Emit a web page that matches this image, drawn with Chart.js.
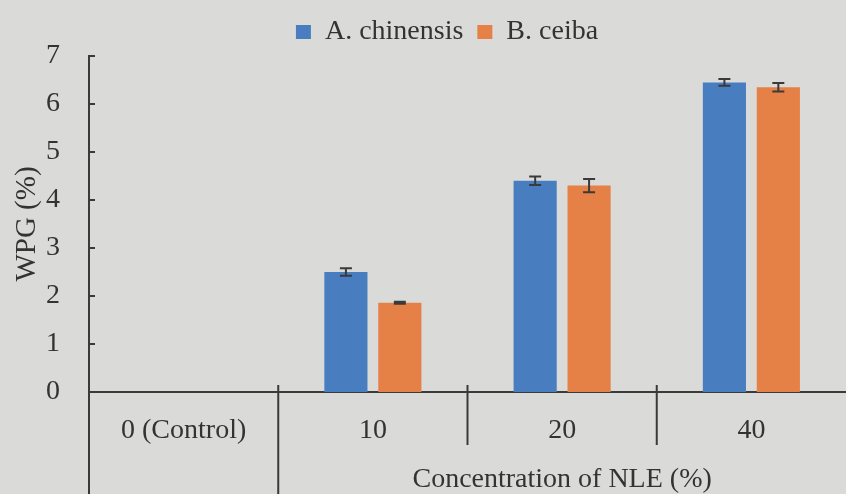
<!DOCTYPE html>
<html>
<head>
<meta charset="utf-8">
<script src="https://cdn.jsdelivr.net/npm/chart.js@4"></script>
<style>
  body { margin: 0; background: #dadbd9; }
  #wrap { width: 846px; height: 494px; }
</style>
</head>
<body>
<div id="wrap"><canvas id="myChart"></canvas></div>
<script>
let categories = ['0 (Control)', '10', '20', '40'];
let chinensis = [0, 2.5, 4.4, 6.45];
let chinensisErr = [0, 0.08, 0.09, 0.07];
let ceiba = [0, 1.86, 4.3, 6.35];
let ceibaErr = [0, 0.02, 0.14, 0.09];
let yTicks = [0, 1, 2, 3, 4, 5, 6, 7];
let groupLabel = 'Concentration of NLE (%)';

let ink = '#333333';
let serif = 'Liberation Serif';

// error bars on top of each bar
const errorBars = {
    id: 'errorBars',
    afterDatasetsDraw(chart) {
        const ctx = chart.ctx;
        const y = chart.scales.y;
        ctx.save();
        ctx.strokeStyle = '#3a3a3a';
        ctx.lineWidth = 2;
        chart.data.datasets.forEach((ds, i) => {
            chart.getDatasetMeta(i).data.forEach((bar, j) => {
                let e = ds.errors[j];
                if (!e) return;
                let top = y.getPixelForValue(ds.data[j] + e);
                let bot = y.getPixelForValue(ds.data[j] - e);
                ctx.beginPath();
                ctx.moveTo(bar.x, top); ctx.lineTo(bar.x, bot);
                ctx.moveTo(bar.x - 6, top); ctx.lineTo(bar.x + 6, top);
                ctx.moveTo(bar.x - 6, bot); ctx.lineTo(bar.x + 6, bot);
                ctx.stroke();
            });
        });
        ctx.restore();
    }
};

// inner y ticks, category dividers and the group label under the axis
const axisExtras = {
    id: 'axisExtras',
    afterLayout(chart) {
        chart.legend.left += 22;
        chart.legend.right += 22;
    },
    beforeDraw(chart) {
        const ctx = chart.ctx;
        ctx.save();
        ctx.fillStyle = '#dadbd9';
        ctx.fillRect(0, 0, chart.width, chart.height);
        ctx.restore();
    },
    afterDraw(chart) {
        const ctx = chart.ctx;
        const x = chart.scales.x;
        const y = chart.scales.y;
        const area = chart.chartArea;
        const half = (x.getPixelForValue(1) - x.getPixelForValue(0)) / 2;
        ctx.save();
        ctx.strokeStyle = '#3a3a3a';
        ctx.lineWidth = 2;
        ctx.beginPath();
        yTicks.forEach(v => {
            let py = y.getPixelForValue(v);
            ctx.moveTo(area.left, py); ctx.lineTo(area.left + 6, py);
        });
        ctx.moveTo(area.left, area.bottom); ctx.lineTo(area.left, chart.height);
        for (let i = 1; i < categories.length; i++) {
            let px = x.getPixelForValue(i) - half;
            ctx.moveTo(px, area.bottom - 7);
            ctx.lineTo(px, i == 1 ? chart.height : area.bottom + 53);
        }
        ctx.stroke();

        let gx = (x.getPixelForValue(1) - half + area.right) / 2;
        ctx.fillStyle = ink;
        ctx.font = '28px "' + serif + '"';
        ctx.textAlign = 'center';
        ctx.textBaseline = 'middle';
        ctx.fillText(groupLabel, gx, 480);
        ctx.restore();
    }
};

var ctx = document.getElementById('myChart').getContext('2d');
var myChart = new Chart(ctx, {
    type: 'bar',
    data: {
        labels: categories,
        datasets: [{
            label: 'A. chinensis',
            data: chinensis,
            errors: chinensisErr,
            backgroundColor: 'rgb(72, 126, 192)',
            categoryPercentage: 0.57,
            barPercentage: 0.8
        }, {
            label: 'B. ceiba',
            data: ceiba,
            errors: ceibaErr,
            backgroundColor: 'rgb(229, 128, 70)',
            categoryPercentage: 0.57,
            barPercentage: 0.8
        }]
    },
    options: {
        responsive: true,
        maintainAspectRatio: false,
        animation: false,
        layout: { padding: { top: 4, right: -4, left: 0, bottom: 0 } },
        plugins: {
            legend: {
                position: 'top',
                labels: {
                    color: ink,
                    font: { family: serif, size: 28 },
                    boxWidth: 15,
                    boxHeight: 14,
                    padding: 14
                }
            },
            tooltip: { enabled: false }
        },
        scales: {
            x: {
                grid: { display: false, drawTicks: false },
                border: { display: true, color: '#3a3a3a', width: 2 },
                ticks: {
                    color: ink,
                    font: { family: serif, size: 28 },
                    padding: 22,
                    maxRotation: 0
                },
                afterFit(scale) { scale.height = 102; }
            },
            y: {
                min: 0,
                max: 7,
                afterBuildTicks(scale) { scale.ticks = yTicks.map(v => ({ value: v })); },
                grid: { display: false, drawTicks: false },
                border: { display: true, color: '#3a3a3a', width: 2 },
                ticks: {
                    color: ink,
                    font: { family: serif, size: 28 },
                    padding: 29
                },
                title: {
                    display: true,
                    text: 'WPG (%)',
                    color: ink,
                    font: { family: serif, size: 29 },
                    padding: 10
                },
                afterFit(scale) { scale.width = 89; }
            }
        }
    },
    plugins: [errorBars, axisExtras]
});
</script>
</body>
</html>
